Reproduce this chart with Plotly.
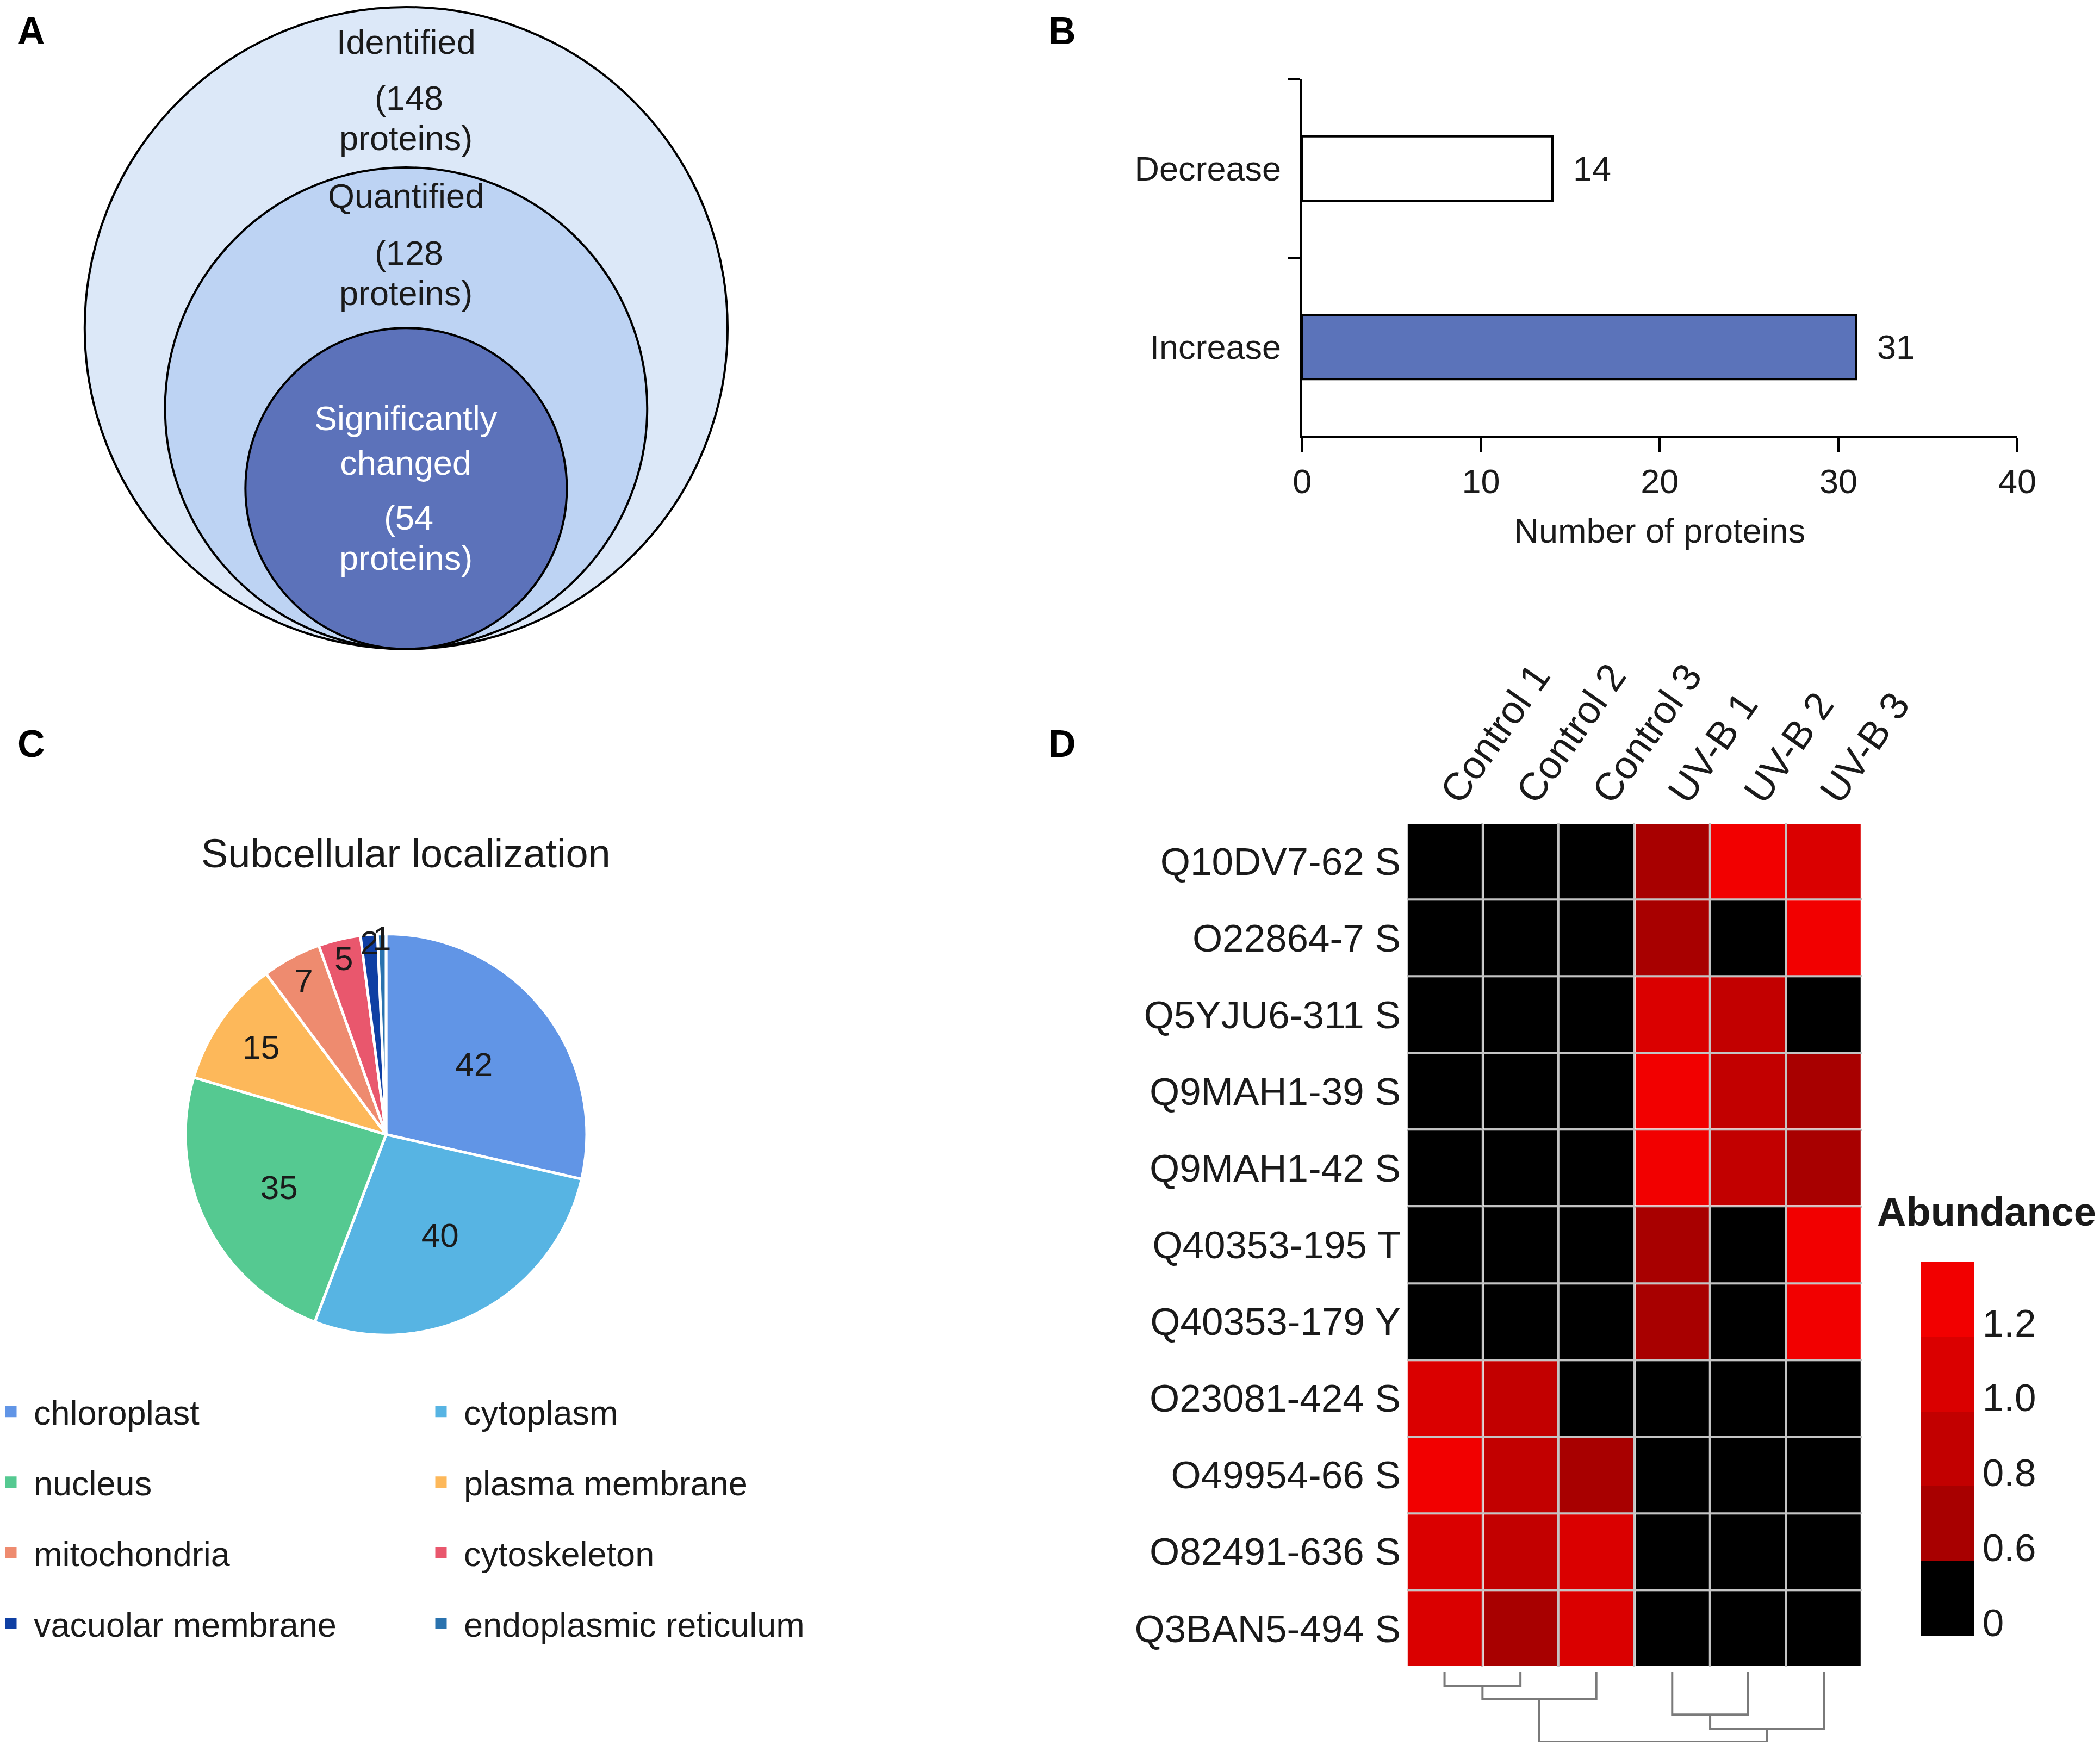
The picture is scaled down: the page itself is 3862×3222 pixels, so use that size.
import plotly.graph_objects as go

# ---------------- DATA ----------------
# Panel A
venn_labels = ["Identified", "Quantified", "Significantly<br>changed"]
venn_counts = [148, 128, 54]

# Panel B
change_categories = ["Increase", "Decrease"]
change_counts = [31, 14]

# Panel C
loc_labels = ["chloroplast", "cytoplasm", "nucleus", "plasma membrane",
              "mitochondria", "cytoskeleton", "vacuolar membrane", "endoplasmic reticulum"]
loc_counts = [42, 40, 35, 15, 7, 5, 2, 1]
loc_colors = ["#6195E6", "#57B4E3", "#55C991", "#FDB85A",
              "#EE8B6F", "#E9576D", "#0F3FA3", "#2A72AE"]

# Panel D
samples = ["Control 1", "Control 2", "Control 3", "UV-B 1", "UV-B 2", "UV-B 3"]
sites = ["Q10DV7-62 S", "O22864-7 S", "Q5YJU6-311 S", "Q9MAH1-39 S", "Q9MAH1-42 S",
         "Q40353-195 T", "Q40353-179 Y", "O23081-424 S", "O49954-66 S", "O82491-636 S",
         "Q3BAN5-494 S"]
control_1 = [0, 0, 0, 0, 0, 0, 0, 1.1, 1.3, 1.1, 1.1]
control_2 = [0, 0, 0, 0, 0, 0, 0, 0.9, 0.9, 0.9, 0.7]
control_3 = [0, 0, 0, 0, 0, 0, 0, 0, 0.7, 1.1, 1.1]
uvb_1 = [0.7, 0.7, 1.1, 1.3, 1.3, 0.7, 0.7, 0, 0, 0, 0]
uvb_2 = [1.3, 0, 0.9, 0.9, 0.9, 0, 0, 0, 0, 0, 0]
uvb_3 = [1.1, 1.3, 0, 0.7, 0.7, 1.3, 1.3, 0, 0, 0, 0]
cbar_labels = [0, 0.6, 0.8, 1.0, 1.2]

# column dendrogram (node ids: 0-5 leaves, 6+ merges)
dendro_left = [0, 6, 3, 8, 7]
dendro_right = [1, 2, 4, 5, 9]
dendro_height = [1.06, 2.02, 3.18, 4.24, 5.2]

# ---------------- HELPERS ----------------
W, H = 3862, 3222
DW, DH = 1568.0, 1310.0
FONT = "Liberation Sans, Arial, sans-serif"


def fx(d):
    return d / DW


def fy(d):
    return 1 - d / DH


def level(v):
    # map abundance to colour-band coordinate (bands: <0.6, 0.6-0.8, 0.8-1.0, 1.0-1.2, >1.2)
    if v < 0.6:
        return 0.0
    return min(4.99, 1 + (v - 0.6) / 0.2)


fig = go.Figure()

# ---------------- PANEL A ----------------
circ_cy = [242, 302, 362]
circ_r = [240, 180, 120]
circ_fill = ["#DCE8F8", "#BDD3F3", "#5C72BA"]
shapes = []
for cy, r, c in zip(circ_cy, circ_r, circ_fill):
    shapes.append(dict(type="circle", xref="x", yref="y", x0=300 - r, x1=300 + r,
                       y0=cy - r, y1=cy + r, fillcolor=c,
                       line=dict(color="black", width=4), layer="below"))

text_y = [(28, 70, 100), (143, 186, 216), (326, 384, 414)]
text_col = ["#1a1a1a", "#1a1a1a", "white"]
annotations = []
for lab, cnt, (y1, y2, y3), col in zip(venn_labels, venn_counts, text_y, text_col):
    annotations.append(dict(x=300, y=y1, xref="x", yref="y", text=lab, showarrow=False,
                            font=dict(size=63, color=col, family=FONT)))
    annotations.append(dict(x=302, y=y2, xref="x", yref="y", text="(%d" % cnt, showarrow=False,
                            font=dict(size=63, color=col, family=FONT)))
    annotations.append(dict(x=300, y=y3, xref="x", yref="y", text="proteins)", showarrow=False,
                            font=dict(size=63, color=col, family=FONT)))

# legend dummy traces on panel A axes (for panel C legend)
for i, (lab, col) in enumerate(zip(loc_labels, loc_colors)):
    fig.add_trace(go.Scatter(x=[None], y=[None], mode="markers", name=lab,
                             marker=dict(symbol="square", size=16, color=col,
                                         line=dict(color=col, width=5)),
                             legend="legend" if i % 2 == 0 else "legend2",
                             legendgroup=lab, xaxis="x", yaxis="y", hoverinfo="skip"))

# ---------------- PANEL B ----------------
fig.add_trace(go.Bar(y=change_categories, x=change_counts, orientation="h",
                     marker=dict(color=["#5B73BA", "white"], line=dict(color="black", width=4)),
                     width=0.36, text=["\u00a0\u00a0" + str(v) for v in change_counts],
                     textposition="outside",
                     textfont=dict(size=63, color="#1a1a1a", family=FONT),
                     cliponaxis=False, xaxis="x2", yaxis="y2", showlegend=False))

# ---------------- PANEL C ----------------
fig.add_trace(go.Pie(values=loc_counts, labels=loc_labels, sort=False, direction="clockwise",
                     rotation=0, marker=dict(colors=loc_colors, line=dict(color="white", width=5)),
                     textinfo="value", textposition="inside", insidetextorientation="horizontal",
                     textfont=dict(size=62, color="#1a1a1a", family=FONT),
                     domain=dict(x=[fx(135), fx(435)], y=[fy(995), fy(695)]),
                     showlegend=False))

# ---------------- PANEL D ----------------
cols = [control_1, control_2, control_3, uvb_1, uvb_2, uvb_3]
z = [[level(cols[j][i]) for j in range(len(samples))] for i in range(len(sites))]
cscale = [[0, "#000000"], [0.2, "#000000"], [0.2, "#A80000"], [0.4, "#A80000"],
          [0.4, "#C20000"], [0.6, "#C20000"], [0.6, "#DA0000"], [0.8, "#DA0000"],
          [0.8, "#F20000"], [1, "#F20000"]]
fig.add_trace(go.Heatmap(z=z, x=samples, y=sites, colorscale=cscale, zmin=0, zmax=5,
                         xgap=4, ygap=4, xaxis="x3", yaxis="y3", hoverinfo="skip",
                         colorbar=dict(x=fx(1431), xanchor="left", y=1 - 1080 / DH,
                                       yanchor="middle", len=689, lenmode="pixels",
                                       thickness=98, thicknessmode="pixels", outlinewidth=0,
                                       xpad=0, ypad=0, ticks="",
                                       tickvals=[level(v) + 0.18 if v > 0 else 0.18 for v in cbar_labels],
                                       ticktext=["0" if v == 0 else "%.1f" % v for v in cbar_labels],
                                       tickfont=dict(size=71, color="#1a1a1a", family=FONT))))

# dendrogram
pos = {i: float(i) for i in range(len(samples))}
hgt = {i: 0.0 for i in range(len(samples))}
dx, dy = [], []
for k, (a, b, h) in enumerate(zip(dendro_left, dendro_right, dendro_height)):
    nid = len(samples) + k
    dx += [pos[a], pos[a], pos[b], pos[b], None]
    dy += [hgt[a], h, h, hgt[b], None]
    pos[nid] = (pos[a] + pos[b]) / 2
    hgt[nid] = h
fig.add_trace(go.Scatter(x=dx, y=dy, mode="lines", line=dict(color="#7a7a7a", width=4),
                         xaxis="x4", yaxis="y4", showlegend=False, hoverinfo="skip",
                         cliponaxis=False))

# ---------------- LAYOUT ----------------
panel_letters = [("A", 20, 20), ("B", 790, 20), ("C", 20, 553), ("D", 790, 553)]
for t, x, y in panel_letters:
    annotations.append(dict(x=fx(x), y=fy(y), xref="paper", yref="paper", text="<b>%s</b>" % t,
                            xanchor="center", yanchor="middle",
                            showarrow=False, font=dict(size=70, color="black", family=FONT)))
annotations.append(dict(x=fx(300), y=fy(635), xref="paper", yref="paper",
                        xanchor="center", yanchor="middle",
                        text="Subcellular localization", showarrow=False,
                        font=dict(size=74, color="#1a1a1a", family=FONT)))
annotations.append(dict(x=fx(1480), y=fy(903), xref="paper", yref="paper",
                        xanchor="center", yanchor="middle",
                        text="<b>Abundance</b>", showarrow=False,
                        font=dict(size=74, color="#1a1a1a", family=FONT)))

axis_font = dict(size=63, color="#1a1a1a", family=FONT)
leg_y = fy(1054) + 52 / H
fig.update_layout(
    width=W, height=H, autosize=False,
    margin=dict(l=0, r=0, t=0, b=0, autoexpand=False),
    paper_bgcolor="white", plot_bgcolor="white",
    font=dict(family=FONT, color="#1a1a1a"),
    shapes=shapes, annotations=annotations,
    uniformtext=dict(minsize=62, mode="show"),
    xaxis=dict(domain=[0, fx(600)], range=[0, 600], visible=False),
    yaxis=dict(domain=[fy(490), 1], range=[490, 0], visible=False),
    xaxis2=dict(domain=[fx(969), fx(1503)], range=[0, 40], dtick=10, ticks="outside",
                ticklen=25, tickwidth=4, tickcolor="black", showline=True, linewidth=4,
                linecolor="black", showgrid=False, zeroline=False, tickfont=axis_font,
                title=dict(text="Number of proteins", font=axis_font, standoff=36),
                anchor="y2"),
    yaxis2=dict(domain=[fy(323), fy(56)], type="category", categoryorder="array",
                categoryarray=change_categories, range=[-0.5, 1.5], tickson="boundaries",
                ticks="outside", ticklen=22, tickwidth=4, tickcolor="black", showline=True,
                linewidth=4, linecolor="black", showgrid=False, zeroline=False,
                ticklabelstandoff=22, tickfont=axis_font, anchor="x2"),
    xaxis3=dict(domain=[fx(1047), fx(1387)], type="category", side="top", tickangle=-55,
                tickson="boundaries", showgrid=True, gridcolor="#c4c4c4", gridwidth=4,
                ticks="", showline=False, zeroline=False, anchor="y3",
                tickfont=dict(size=72, color="#1a1a1a", family=FONT)),
    yaxis3=dict(domain=[fy(1243), fy(612)], type="category", autorange="reversed",
                tickson="boundaries", showgrid=True, gridcolor="#c4c4c4", gridwidth=4,
                ticks="", showline=False, zeroline=False, anchor="x3",
                ticklabelstandoff=10,
                tickfont=dict(size=71, color="#1a1a1a", family=FONT)),
    xaxis4=dict(domain=[fx(1047), fx(1387)], range=[-0.5, 5.5], visible=False, anchor="y4"),
    yaxis4=dict(domain=[fy(1299), fy(1247)], range=[5.2, 0], visible=False, anchor="x4"),
    legend=dict(x=-30 / W, xanchor="left", y=leg_y, yanchor="top",
                font=dict(size=63, color="#1a1a1a", family=FONT), itemwidth=74,
                tracegroupgap=45, bgcolor="rgba(0,0,0,0)", borderwidth=0),
    legend2=dict(x=761 / W, xanchor="left", y=leg_y, yanchor="top",
                 font=dict(size=63, color="#1a1a1a", family=FONT), itemwidth=74,
                 tracegroupgap=45, bgcolor="rgba(0,0,0,0)", borderwidth=0),
)

fig.write_html("out.html")
